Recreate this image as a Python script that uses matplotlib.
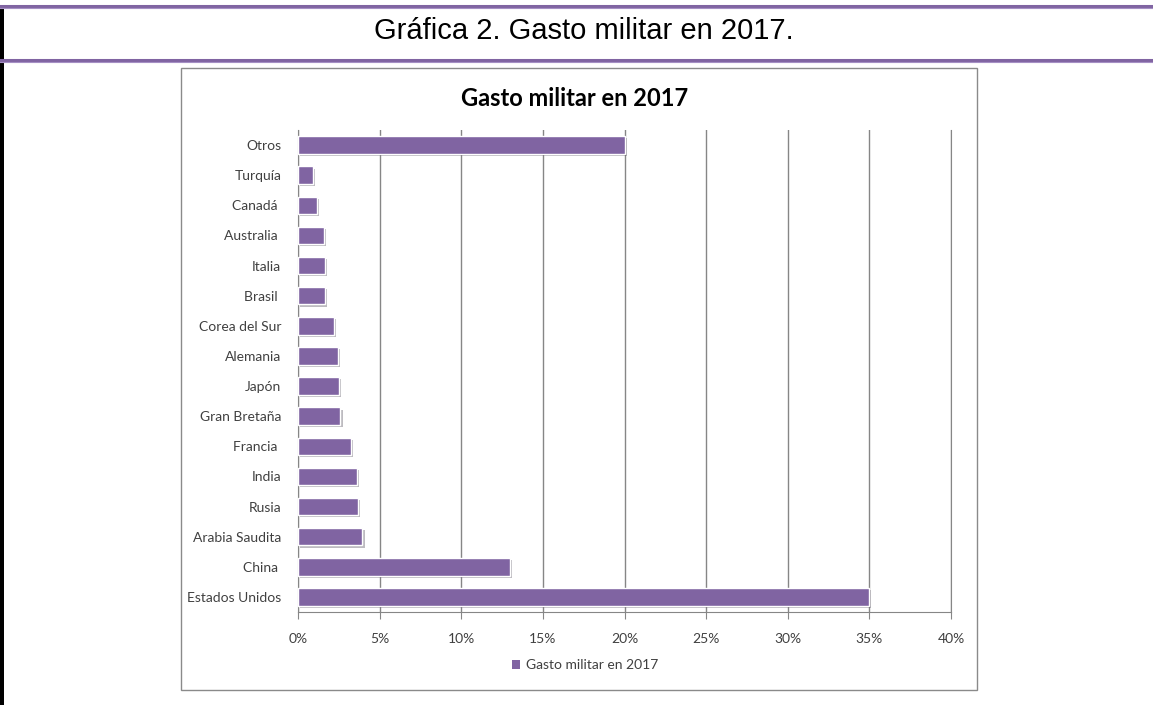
import matplotlib.pyplot as plt
import matplotlib.patheffects as pe
from matplotlib.patches import Rectangle
from matplotlib.lines import Line2D
from matplotlib.ticker import PercentFormatter

paises = ["Estados Unidos", "China ", "Arabia Saudita", "Rusia", "India", "Francia ",
          "Gran Bretaña", "Japón", "Alemania", "Corea del Sur", "Brasil ", "Italia",
          "Australia ", "Canadá ", "Turquía", "Otros"]
gasto = [35.0, 13.0, 3.95, 3.7, 3.6, 3.25, 2.6, 2.5, 2.45, 2.2, 1.65, 1.65, 1.6, 1.15, 0.9, 20.0]
ticks_x = [0, 5, 10, 15, 20, 25, 30, 35, 40]

morado = "#8064A2"
W, H = 1153, 705

fig = plt.figure(figsize=(W / 100, H / 100), dpi=100)

# marco de la página (líneas moradas y borde negro)
def hline(y, lw, color):
    fig.add_artist(Line2D([0, 1], [1 - y / H, 1 - y / H], lw=lw, color=color,
                          transform=fig.transFigure))

hline(5.5, 2.2, morado)
hline(8.3, 0.8, "#a58fc4")
hline(59.5, 2.2, morado)
hline(62.3, 0.8, "#a58fc4")
fig.add_artist(Rectangle((0, 0), 3.5 / W, 1 - 7 / H, transform=fig.transFigure,
                         facecolor="black", edgecolor="none"))

fig.text(584 / W, 1 - 31 / H, "Gráfica 2. Gasto militar en 2017.", ha="center", va="center",
         fontsize=21, family="Liberation Sans", color="black")

# recuadro del gráfico
fig.add_artist(Rectangle((181 / W, 1 - 690 / H), (977 - 181) / W, (690 - 68) / H,
                         transform=fig.transFigure, facecolor="white",
                         edgecolor="#8a8a8a", lw=1, zorder=-1))

ax = fig.add_axes([298 / W, 1 - 612 / H, (951 - 298) / W, (612 - 130) / H])
ax.patch.set_alpha(0)
y = list(range(len(paises)))
bars = ax.barh(y, gasto, height=0.58, color=morado, edgecolor="white", lw=1.0,
               label="Gasto militar en 2017", zorder=3)
for b in bars:
    b.set_path_effects([pe.SimplePatchShadow(offset=(1.5, -1.5), alpha=0.3), pe.Normal()])

ax.set_xlim(0, 40)
ax.set_ylim(-0.5, len(paises) - 0.5)
ax.set_xticks(ticks_x)
ax.xaxis.set_major_formatter(PercentFormatter(decimals=0))
ax.set_yticks(y)
ax.set_yticklabels(paises)
ax.grid(axis="x", color="#868686", lw=1, zorder=0)
ax.spines["top"].set_visible(False)
for s in ["left", "bottom", "right"]:
    ax.spines[s].set_color("#868686")
ax.tick_params(axis="x", length=5, color="#868686", labelsize=10, labelcolor="#404040", pad=10)
ax.tick_params(axis="y", length=0, labelsize=10, labelcolor="#404040", pad=12)
for t in ax.get_xticklabels() + ax.get_yticklabels():
    t.set_family("Lato")

fig.text(575 / W, 1 - 98 / H, "Gasto militar en 2017", ha="center", va="center",
         fontsize=17, fontweight="bold", family="Lato", color="black")

leg = fig.legend(loc="center", bbox_to_anchor=(585 / W, 1 - 665 / H), frameon=False,
                 prop={"family": "Lato", "size": 10}, handlelength=0.6, handleheight=0.6,
                 handletextpad=0.4, labelcolor="#404040")
for h in leg.legend_handles:
    h.set_path_effects([])
    h.set_edgecolor("none")

fig.savefig("out.png", dpi=100)
